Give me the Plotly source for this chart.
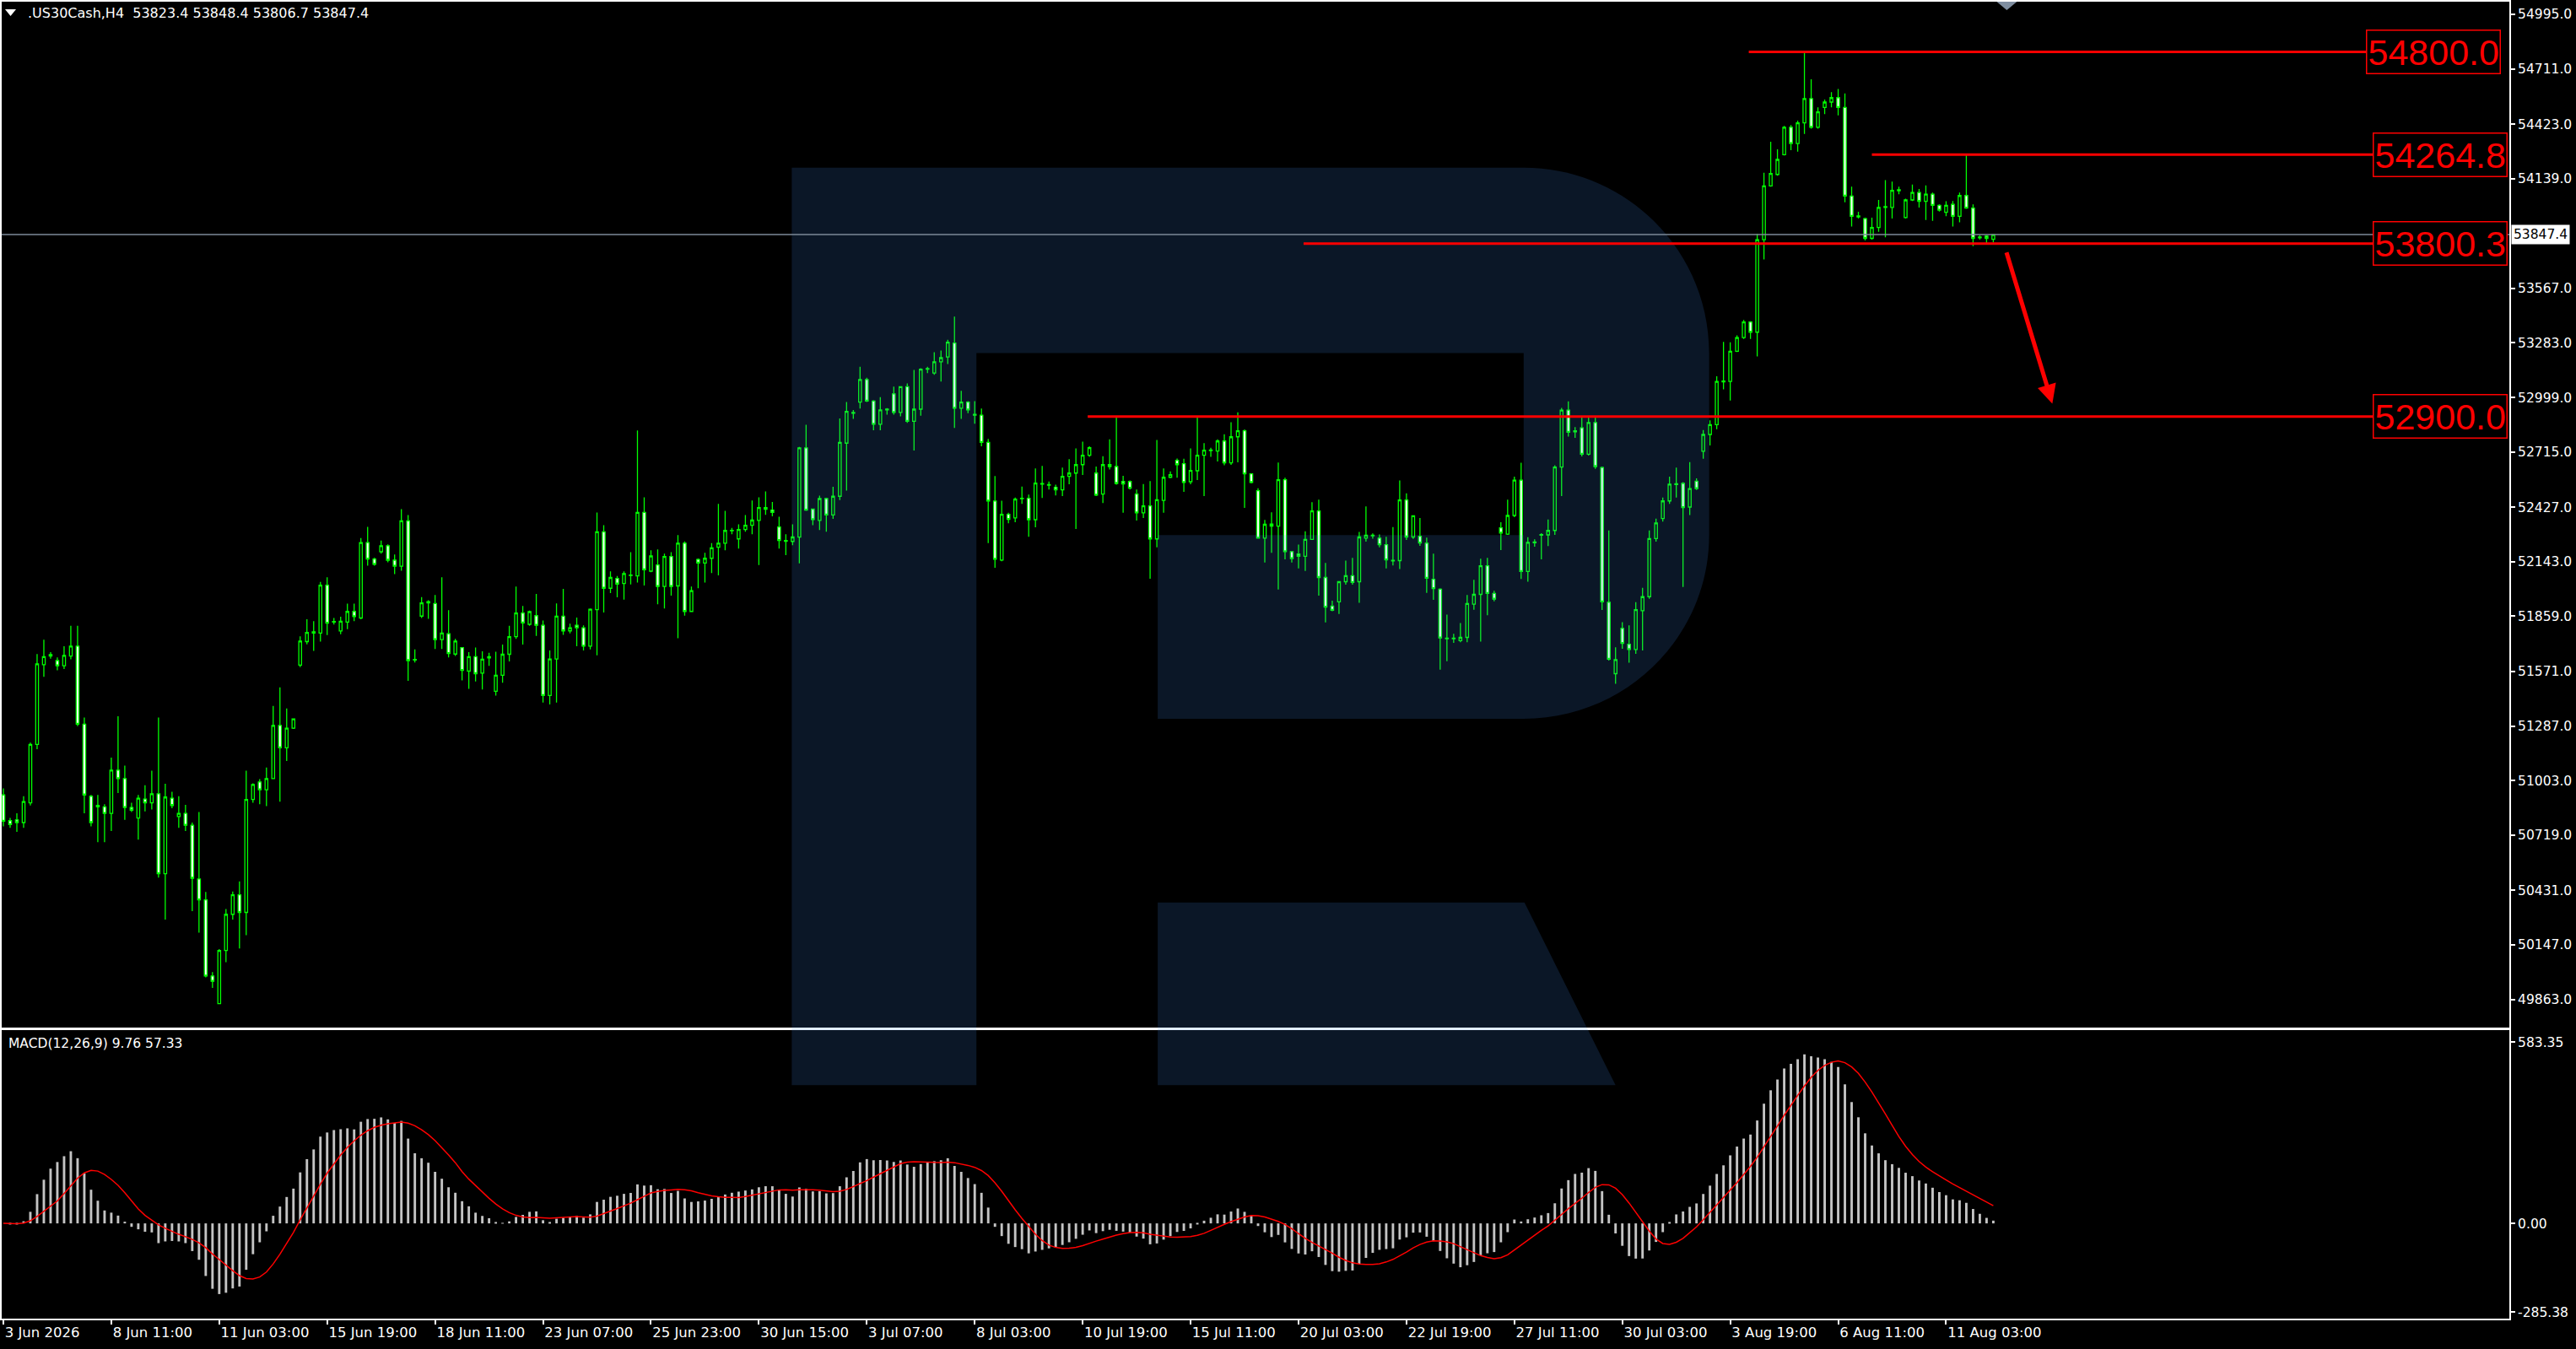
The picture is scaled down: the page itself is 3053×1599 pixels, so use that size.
import pandas as pd
import plotly.graph_objects as go

# .US30Cash H4 candles, 3 Jun 2026 -> 12 Aug 2026
opens = [
    50928, 50794, 50798, 50784, 50887, 51191, 51607, 51652, 51628, 51601,
    51652, 51703, 51297, 50921, 50873, 50866, 50832, 51057, 51013, 50863,
    50808, 50907, 50887, 50934, 50518, 50911, 50815, 50832, 50770, 50490,
    50381, 49985, 49841, 50118, 50306, 50408, 50316, 50904, 50996, 50955,
    51013, 51290, 51174, 51276, 51604, 51727, 51771, 51771, 52021, 51829,
    51782, 51829, 51884, 51850, 52243, 52157, 52195, 52226, 52151, 52120,
    52356, 51631, 51860, 51929, 51925, 51737, 51768, 51662, 51696, 51573,
    51648, 51563, 51642, 51468, 51552, 51661, 51753, 51876, 51817, 51862,
    51812, 51446, 51636, 51859, 51783, 51812, 51799, 51703, 51893, 52299,
    52005, 52056, 52030, 52071, 52069, 52400, 52094, 52126, 52014, 52170,
    52017, 52240, 51884, 52155, 52136, 52161, 52219, 52240, 52304, 52262,
    52311, 52333, 52358, 52425, 52412, 52324, 52250, 52249, 52271, 52736,
    52417, 52358, 52472, 52387, 52484, 52761, 52917, 52975, 53092, 52980,
    52859, 52934, 53018, 52921, 53055, 52875, 52938, 53146, 53126, 53185,
    53210, 53282, 52943, 52975, 52911, 52907, 52765, 52459, 52152, 52390,
    52371, 52471, 52474, 52362, 52547, 52542, 52531, 52518, 52588, 52605,
    52649, 52698, 52605, 52496, 52649, 52639, 52561, 52561, 52496, 52398,
    52434, 52262, 52463, 52583, 52671, 52654, 52560, 52617, 52698, 52722,
    52720, 52772, 52658, 52794, 52825, 52601, 52513, 52266, 52329, 52329,
    52570, 52196, 52183, 52171, 52259, 52408, 52061, 51912, 51934, 52039,
    52070, 52039, 52266, 52278, 52266, 52232, 52147, 52149, 52465, 52272,
    52276, 52240, 52052, 52000, 51742, 51742, 51732, 51749, 51922, 51973,
    52122, 51978, 52320, 52287, 52384, 52568, 52092, 52242, 52281, 52283,
    52306, 52636, 52933, 52820, 52841, 52703, 52868, 52634, 51932, 51560,
    51796, 51713, 51686, 51888, 51961, 52264, 52368, 52460, 52545, 52551,
    52428, 52563, 52719, 52806, 52857, 53080, 53082, 53240, 53311, 53392,
    53339, 53821, 54101, 54161, 54264, 54407, 54322, 54430, 54556, 54407,
    54510, 54538, 54561, 54510, 54048, 53940, 53931, 53828, 53885, 53989,
    53989, 54076, 53936, 54028, 54067, 54021, 54058, 54000, 53964, 54005,
    53943, 54051, 53986, 53831, 53840, 53823.4,
]
highs = [
    50962, 50808, 50832, 50921, 51201, 51662, 51737, 51672, 51645, 51703,
    51809, 51809, 51331, 50928, 50928, 50880, 51122, 51338, 51081, 50887,
    50928, 50979, 51054, 51331, 50986, 50945, 50921, 50876, 50784, 50839,
    50422, 50005, 50125, 50333, 50425, 50477, 51054, 50989, 51010, 51071,
    51392, 51488, 51379, 51327, 51754, 51843, 51833, 52038, 52062, 51850,
    51857, 51925, 51925, 52267, 52325, 52164, 52253, 52233, 52181, 52417,
    52386, 51686, 51959, 51942, 51970, 52062, 51891, 51741, 51696, 51672,
    51696, 51676, 51669, 51674, 51711, 51809, 52014, 51913, 51888, 51975,
    51837, 51681, 51926, 52002, 51820, 51852, 51812, 51899, 52400, 52333,
    52093, 52069, 52093, 52193, 52827, 52479, 52203, 52207, 52185, 52193,
    52282, 52249, 52014, 52160, 52190, 52240, 52445, 52408, 52319, 52338,
    52386, 52462, 52479, 52509, 52454, 52378, 52286, 52338, 52741, 52857,
    52420, 52487, 52476, 52534, 52890, 52975, 52934, 53159, 53102, 52985,
    53001, 52943, 53055, 53058, 53072, 53142, 53151, 53159, 53235, 53243,
    53299, 53420, 53033, 52980, 52980, 52941, 52783, 52590, 52461, 52398,
    52478, 52535, 52493, 52629, 52642, 52561, 52544, 52633, 52677, 52734,
    52769, 52744, 52639, 52693, 52781, 52902, 52591, 52566, 52519, 52548,
    52563, 52778, 52629, 52614, 52681, 52680, 52734, 52896, 52761, 52737,
    52781, 52807, 52870, 52921, 52832, 52602, 52526, 52361, 52401, 52660,
    52581, 52196, 52232, 52302, 52453, 52466, 52137, 51940, 52039, 52149,
    52163, 52298, 52431, 52291, 52285, 52273, 52324, 52566, 52500, 52382,
    52371, 52269, 52185, 52005, 51868, 51768, 51824, 51970, 52049, 52159,
    52163, 51992, 52349, 52467, 52586, 52659, 52271, 52260, 52292, 52363,
    52646, 52944, 52979, 52845, 52903, 52903, 52903, 52639, 52306, 51697,
    51828, 51812, 51932, 52007, 52306, 52368, 52478, 52586, 52634, 52558,
    52662, 52577, 52829, 52880, 53109, 53289, 53286, 53323, 53403, 53396,
    53851, 54170, 54331, 54292, 54414, 54418, 54441, 54800.0, 54657, 54510,
    54551, 54590, 54606, 54583, 54097, 53966, 53936, 53936, 54028, 54131,
    54124, 54097, 54035, 54108, 54085, 54104, 54067, 54005, 54021, 54023,
    54067, 54264.8, 54005, 53844, 53844, 53848.4,
]
lows = [
    50764, 50757, 50736, 50757, 50873, 51167, 51543, 51638, 51577, 51584,
    51635, 51286, 50832, 50764, 50682, 50682, 50740, 50938, 50798, 50839,
    50695, 50842, 50852, 50497, 50279, 50859, 50757, 50740, 50323, 50210,
    49978, 49923, 49841, 50057, 50279, 50128, 50197, 50887, 50880, 50870,
    51013, 50893, 51105, 51272, 51594, 51713, 51679, 51727, 51761, 51816,
    51765, 51792, 51833, 51843, 52123, 52123, 52185, 52140, 52079, 52096,
    51522, 51618, 51850, 51846, 51689, 51689, 51645, 51652, 51525, 51481,
    51519, 51478, 51601, 51446, 51513, 51624, 51741, 51711, 51809, 51757,
    51409, 51400, 51409, 51762, 51770, 51703, 51681, 51686, 51656, 51879,
    51980, 51958, 51946, 52025, 52035, 52019, 52089, 51921, 51899, 51967,
    51745, 51862, 51884, 52005, 52035, 52084, 52072, 52203, 52286, 52212,
    52299, 52286, 52126, 52387, 52380, 52212, 52178, 52229, 52135, 52408,
    52333, 52308, 52299, 52366, 52464, 52514, 52887, 52941, 52975, 52828,
    52828, 52909, 52909, 52901, 52867, 52723, 52904, 53126, 53117, 53082,
    53173, 52840, 52887, 52917, 52862, 52744, 52240, 52111, 52146, 52343,
    52349, 52444, 52273, 52322, 52475, 52519, 52488, 52485, 52547, 52314,
    52595, 52690, 52485, 52449, 52624, 52544, 52398, 52519, 52358, 52371,
    52054, 52218, 52398, 52579, 52581, 52507, 52547, 52569, 52485, 52690,
    52665, 52646, 52648, 52661, 52424, 52551, 52266, 52139, 52190, 51998,
    52156, 52139, 52108, 52095, 52259, 51966, 51827, 51885, 51871, 52024,
    52024, 51929, 52248, 52263, 52218, 52108, 52124, 52105, 52257, 52262,
    52226, 51981, 51944, 51581, 51625, 51720, 51724, 51724, 51893, 51727,
    51864, 51937, 52204, 52283, 52375, 52053, 52039, 52221, 52156, 52225,
    52283, 52485, 52795, 52788, 52692, 52696, 52627, 51892, 51628, 51507,
    51690, 51617, 51663, 51681, 51950, 52248, 52352, 52444, 52478, 52012,
    52386, 52517, 52680, 52749, 52834, 53041, 52983, 53236, 53304, 53304,
    53213, 53718, 54097, 54154, 54260, 54287, 54280, 54372, 54400, 54400,
    54475, 54510, 54469, 54016, 53890, 53931, 53817, 53821, 53862, 53833,
    53931, 54058, 53931, 54023, 53989, 53924, 53919, 53968, 53943, 53890,
    53912, 53982, 53787, 53821, 53802, 53806.7,
]
closes = [
    50791, 50774, 50784, 50893, 51191, 51611, 51648, 51659, 51601, 51655,
    51703, 51297, 50928, 50784, 50866, 50832, 51057, 51013, 50863, 50849,
    50911, 50887, 50934, 50518, 50917, 50873, 50832, 50770, 50494, 50381,
    49985, 49957, 50118, 50306, 50408, 50316, 50904, 50982, 50955, 51013,
    51290, 51174, 51276, 51324, 51730, 51775, 51778, 52021, 51823, 51832,
    51833, 51884, 51857, 52243, 52157, 52130, 52226, 52151, 52120, 52356,
    51628, 51634, 51929, 51935, 51737, 51771, 51665, 51730, 51577, 51648,
    51560, 51635, 51648, 51552, 51661, 51753, 51876, 51824, 51883, 51812,
    51446, 51636, 51859, 51783, 51799, 51799, 51703, 51896, 52299, 52005,
    52061, 52027, 52081, 52074, 52400, 52101, 52173, 52014, 52170, 52014,
    52240, 51884, 51992, 52136, 52161, 52215, 52240, 52306, 52306, 52311,
    52333, 52360, 52425, 52417, 52400, 52254, 52254, 52272, 52736, 52412,
    52363, 52472, 52387, 52484, 52765, 52926, 52921, 53092, 52980, 52859,
    52934, 52938, 52921, 53055, 52875, 52938, 53146, 53149, 53185, 53206,
    53287, 52943, 52975, 52934, 52907, 52765, 52459, 52156, 52390, 52364,
    52469, 52474, 52362, 52553, 52550, 52545, 52518, 52588, 52605, 52649,
    52698, 52737, 52490, 52649, 52639, 52551, 52548, 52526, 52398, 52434,
    52262, 52466, 52583, 52597, 52649, 52556, 52619, 52698, 52724, 52725,
    52772, 52658, 52794, 52825, 52601, 52556, 52266, 52338, 52339, 52570,
    52196, 52159, 52171, 52259, 52408, 52061, 51907, 51890, 52039, 52070,
    52035, 52272, 52281, 52281, 52232, 52153, 52150, 52465, 52272, 52382,
    52241, 52057, 52003, 51746, 51745, 51745, 51749, 51925, 51973, 52122,
    51978, 51948, 52292, 52384, 52568, 52092, 52244, 52246, 52285, 52306,
    52636, 52933, 52818, 52825, 52703, 52868, 52639, 51934, 51635, 51633,
    51718, 51686, 51893, 51961, 52264, 52345, 52460, 52547, 52549, 52425,
    52524, 52524, 52806, 52857, 53082, 53084, 53240, 53311, 53392, 53339,
    53821, 54101, 54166, 54239, 54407, 54322, 54430, 54556, 54407, 54487,
    54538, 54561, 54510, 54048, 53943, 53945, 53828, 53885, 53989, 53993,
    54078, 54081, 54028, 54067, 54021, 54058, 54000, 53975, 54000, 53943,
    54051, 53986, 53828, 53835, 53828, 53847.4,
]

time_tick_bars = [0, 16, 32, 48, 64, 80, 96, 112, 128, 144,
                  160, 176, 192, 208, 224, 240, 256, 272, 288]
time_tick_labels = [
    "3 Jun 2026", "8 Jun 11:00", "11 Jun 03:00", "15 Jun 19:00", "18 Jun 11:00",
    "23 Jun 07:00", "25 Jun 23:00", "30 Jun 15:00", "3 Jul 07:00", "8 Jul 03:00",
    "10 Jul 19:00", "15 Jul 11:00", "20 Jul 03:00", "22 Jul 19:00", "27 Jul 11:00",
    "30 Jul 03:00", "3 Aug 19:00", "6 Aug 11:00", "11 Aug 03:00",
]
price_ticks = [54995.0, 54711.0, 54423.0, 54139.0, 53567.0, 53283.0, 52999.0,
               52715.0, 52427.0, 52143.0, 51859.0, 51571.0, 51287.0, 51003.0,
               50719.0, 50431.0, 50147.0, 49863.0]
macd_ticks = [583.35, 0.0, -285.38]

# drawn objects: horizontal levels (price, first bar, bar of the label box)
level_prices = [54800.0, 54264.8, 53800.3, 52900.0]
level_start_bars = [258.75, 277.0, 192.75, 160.75]
level_label_bars = [350.25, 351.25, 351.25, 351.25]
last_price = 53847.4
arrow_start = (296.9, 53761.0)
arrow_end = (303.75, 52967.0)

HEADER = ".US30Cash,H4\u00a0\u00a053823.4 53848.4 53806.7 53847.4"
MACD_LABEL = "MACD(12,26,9) 9.76 57.33"

W, H = 3053, 1599
PLOT_W, PLOT_H = 2974, 1563
FONT = "DejaVu Sans"
LIME = "#00ff00"


def px(x):
    return x / PLOT_W


def py(y):
    return 1 - y / PLOT_H


def to_path(pts):
    parts = []
    for p in pts:
        cmd, vals = p[0], p[1:]
        coords = " ".join(f"{px(vals[i]):.5f},{py(vals[i + 1]):.5f}"
                          for i in range(0, len(vals), 2))
        parts.append(f"{cmd} {coords}")
    return " ".join(parts) + " Z"


def logo_paths():
    # watermark "R": stem + bowl, and the separate slanted leg
    k = 0.5523
    body = [
        ("M", 937, 197), ("L", 1805, 197),
        ("C", 1805 + k * 220, 197, 2025, 417 - k * 220, 2025, 417),
        ("L", 2025, 633),
        ("C", 2025, 633 + k * 218, 1805 + k * 220, 851, 1805, 851),
        ("L", 1371, 851), ("L", 1371, 633), ("L", 1805, 633),
        ("L", 1805, 417), ("L", 1156, 417), ("L", 1156, 1286),
        ("L", 937, 1286),
    ]
    leg = [("M", 1371, 1069), ("L", 1806, 1069), ("L", 1914, 1286),
           ("L", 1371, 1286)]
    return [to_path(body), to_path(leg)]


bars = list(range(len(closes)))

close_s = pd.Series(closes, dtype=float)
macd_main = (close_s.ewm(span=12, adjust=False).mean()
             - close_s.ewm(span=26, adjust=False).mean())
macd_signal = macd_main.rolling(9, min_periods=1).mean()

fig = go.Figure()

fig.add_trace(go.Candlestick(
    x=bars, open=opens, high=highs, low=lows, close=closes,
    xaxis="x2", yaxis="y",
    increasing=dict(line=dict(color=LIME, width=1.3), fillcolor="black"),
    decreasing=dict(line=dict(color=LIME, width=1.3), fillcolor="white"),
    whiskerwidth=0, hoverinfo="skip", showlegend=False,
))

fig.add_trace(go.Bar(
    x=bars, y=macd_main, xaxis="x", yaxis="y2", width=0.36,
    marker=dict(color="#c4c4c4", line=dict(width=0)),
    hoverinfo="skip", showlegend=False,
))
fig.add_trace(go.Scatter(
    x=bars, y=macd_signal, xaxis="x", yaxis="y2", mode="lines",
    line=dict(color="#ff0000", width=1.5),
    hoverinfo="skip", showlegend=False,
))

shapes = []
for path in logo_paths():
    shapes.append(dict(type="path", xref="paper", yref="paper", path=path,
                       fillcolor="rgba(70,140,240,0.16)", line=dict(width=0),
                       layer="above"))
shapes += [
    # current price line
    dict(type="line", xref="paper", yref="y", x0=0, x1=1,
         y0=last_price, y1=last_price, line=dict(color="#7d8a99", width=1.5),
         layer="above"),
    # header triangle
    dict(type="path", xref="paper", yref="paper",
         path=f"M {px(4)},{py(9)} L {px(17)},{py(9)} L {px(10.5)},{py(17)} Z",
         fillcolor="white", line=dict(width=0)),
    # shift marker at the top
    dict(type="path", xref="paper", yref="paper",
         path=f"M {px(2366)},{py(0)} L {px(2390)},{py(0)} L {px(2378)},{py(10)} Z",
         fillcolor="#7f8ea0", line=dict(width=0)),
]
for price, start, end in zip(level_prices, level_start_bars, level_label_bars):
    shapes.append(dict(type="line", xref="x2", yref="y", x0=start, x1=end,
                       y0=price, y1=price, line=dict(color="#ff0000", width=3),
                       layer="above"))

annotations = [
    dict(xref="paper", yref="paper", x=px(29), y=py(14), xanchor="left",
         yanchor="middle", text=HEADER, showarrow=False,
         font=dict(family=FONT, size=16, color="white")),
    dict(xref="paper", yref="paper", x=px(6), y=py(1237), xanchor="left",
         yanchor="middle", text=MACD_LABEL, showarrow=False,
         font=dict(family=FONT, size=15.5, color="white")),
    dict(xref="paper", yref="y", x=1, xshift=2, y=last_price, xanchor="left",
         yanchor="middle", text=f"{last_price:.1f}", showarrow=False,
         bgcolor="white", borderpad=2,
         font=dict(family=FONT, size=15.5, color="black")),
    dict(xref="x2", yref="y", x=arrow_end[0], y=arrow_end[1],
         axref="x2", ayref="y", ax=arrow_start[0], ay=arrow_start[1],
         text="", showarrow=True, arrowhead=2, arrowsize=0.9,
         arrowwidth=5, arrowcolor="#ff0000", standoff=0),
]
for price, lab in zip(level_prices, level_label_bars):
    annotations.append(dict(
        xref="x2", yref="y", x=lab, y=price, xanchor="left", yanchor="middle",
        text=f"{price:.1f}", showarrow=False, bgcolor="black",
        bordercolor="#ff0000", borderwidth=1.5, borderpad=1,
        font=dict(family="Liberation Sans", size=43, color="#ff0000"),
    ))

axis_common = dict(showgrid=False, zeroline=False, showline=True,
                   linecolor="white", linewidth=2, mirror=True)

fig.update_layout(
    width=W, height=H,
    margin=dict(l=0, r=W - PLOT_W, t=0, b=H - PLOT_H),
    paper_bgcolor="black", plot_bgcolor="black",
    boxgap=0.42,
    showlegend=False,
    shapes=shapes,
    annotations=annotations,
    xaxis=dict(
        domain=[0, 1], anchor="y2", range=[-0.25, 371.5],
        tickmode="array", tickvals=time_tick_bars, ticktext=time_tick_labels,
        ticks="outside", ticklen=5, tickwidth=1.5, tickcolor="white",
        ticklabelposition="outside right",
        tickfont=dict(family=FONT, size=16.5, color="white"),
        **axis_common,
    ),
    xaxis2=dict(
        domain=[0, 1], anchor="y", matches="x", showticklabels=False,
        ticks="", rangeslider=dict(visible=False), **axis_common,
    ),
    yaxis=dict(
        domain=[1 - 1218 / PLOT_H, 1], anchor="x2", side="right",
        range=[49714, 55061], tickmode="array", tickvals=price_ticks,
        ticktext=[f"{v:.1f}" for v in price_ticks],
        ticks="outside", ticklen=5, tickwidth=1.5, tickcolor="white",
        tickfont=dict(family=FONT, size=15.5, color="white"),
        **axis_common,
    ),
    yaxis2=dict(
        domain=[0, 1 - 1221 / PLOT_H], anchor="x", side="right",
        range=[-306.6, 621], tickmode="array", tickvals=macd_ticks,
        ticktext=[f"{v:.2f}" for v in macd_ticks],
        ticks="outside", ticklen=5, tickwidth=1.5, tickcolor="white",
        tickfont=dict(family=FONT, size=15.5, color="white"),
        **axis_common,
    ),
)

fig.write_html("out.html", config={"displayModeBar": False},
               post_script="document.body.style.margin='0px';")
